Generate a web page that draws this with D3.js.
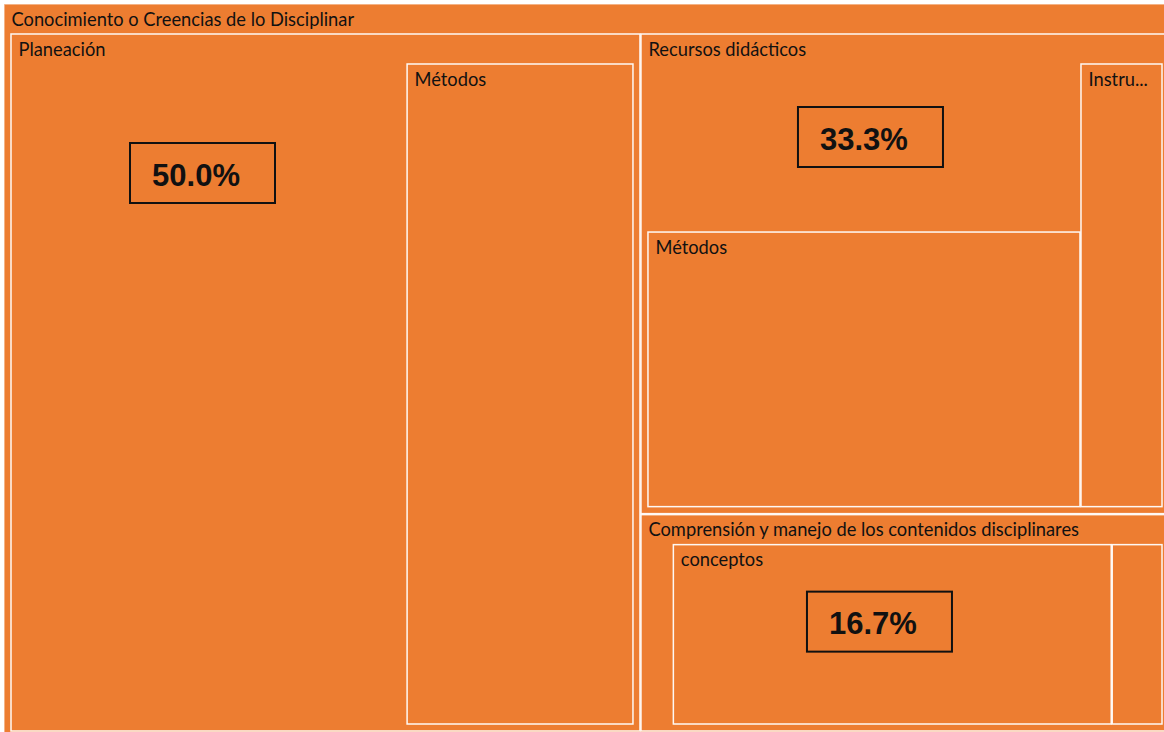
<!DOCTYPE html>
<html>
<head>
<meta charset="utf-8">
<script src="https://cdn.jsdelivr.net/npm/d3@7"></script>
<style>
  html, body { margin: 0; padding: 0; background: #ffffff; }
  svg { display: block; }
</style>
</head>
<body>
<svg id="chart" width="1164" height="732"></svg>
<script>
// ---- data ----
const rootName = "Conocimiento o Creencias de lo Disciplinar";
const groups = ["Planeación", "Recursos didácticos", "Comprensión y manejo de los contenidos disciplinares"];
const groupOwnValues = [343, 100, 7];
const groupShares = ["50.0%", "33.3%", "16.7%"];
const childGroup = [0, 1, 1, 2, 2];
const childNames = ["Métodos", "Métodos", "Instrumentos", "conceptos", "procedimientos"];
const childValues = [200, 164, 50, 121, 14];

// ---- styles ----
const W = 1164, H = 732;
const fill = "#ED7D31";
const shareBox = [
  { dx: 119, dy: 109 },
  { dx: 157, dy: 73 },
  { dx: 166, dy: 77 }
];
const boxW = 145, boxH = 60;

// build hierarchy (parent's own share as an invisible first child)
const tree = {
  name: rootName,
  children: groups.map((g, gi) => ({
    name: g,
    gi: gi,
    children: [{ name: g, own: true, value: groupOwnValues[gi] }].concat(
      childNames.map((n, i) => ({ name: n, value: childValues[i], g: childGroup[i] }))
        .filter(c => c.g === gi)
        .map(c => ({ name: c.name, value: c.value }))
    )
  }))
};

const root = d3.hierarchy(tree).sum(d => d.value || 0);

d3.treemap()
  .tile(d3.treemapSquarify)
  .size([1172, 734])
  .paddingTop(30)
  .paddingLeft(7)
  .paddingRight(7)
  .paddingBottom(7)
  .paddingInner(1)(root);

const svg = d3.select("#chart");
const g = svg.append("g").attr("transform", "translate(4,4)");

const nodes = root.descendants().filter(d => !d.data.own);

const cell = g.selectAll("g.cell").data(nodes).join("g").attr("class", "cell");

cell.append("rect")
  .attr("x", d => d.x0)
  .attr("y", d => d.y0)
  .attr("width", d => d.x1 - d.x0)
  .attr("height", d => d.y1 - d.y0)
  .attr("fill", fill)
  .attr("stroke", "#ffffff")
  .attr("stroke-opacity", d => d.depth === 0 ? 0.55 : 0.95)
  .attr("stroke-width", 1.5);

cell.append("text")
  .attr("x", d => d.x0 + 7.5)
  .attr("y", d => d.y0 + 21.5)
  .attr("font-family", "Lato, 'Open Sans', sans-serif")
  .attr("font-size", 18.3)
  .attr("fill", "#111111")
  .text(d => d.data.name)
  .each(function(d) {
    const avail = (d.x1 - d.x0) - 14;
    const el = d3.select(this);
    if (avail < 55) { el.text(""); return; }
    let s = d.data.name;
    if (this.getComputedTextLength() <= avail) return;
    while (s.length > 1) {
      s = s.slice(0, -1);
      el.text(s + "...");
      if (this.getComputedTextLength() <= avail) break;
    }
  });

// percentage boxes
const groupNodes = root.children;
const boxes = g.selectAll("g.share").data(groupNodes).join("g").attr("class", "share");
boxes.append("rect")
  .attr("x", d => d.x0 + shareBox[d.data.gi].dx)
  .attr("y", d => d.y0 + shareBox[d.data.gi].dy)
  .attr("width", boxW)
  .attr("height", boxH)
  .attr("fill", "none")
  .attr("stroke", "#111111")
  .attr("stroke-width", 2);
boxes.append("text")
  .attr("x", d => d.x0 + shareBox[d.data.gi].dx + boxW / 2 - 6.5)
  .attr("y", d => d.y0 + shareBox[d.data.gi].dy + 42.5)
  .attr("text-anchor", "middle")
  .attr("font-family", "Arial, 'Liberation Sans', sans-serif")
  .attr("font-weight", "bold")
  .attr("font-size", 31)
  .attr("fill", "#111111")
  .text(d => groupShares[d.data.gi]);
</script>
</body>
</html>
